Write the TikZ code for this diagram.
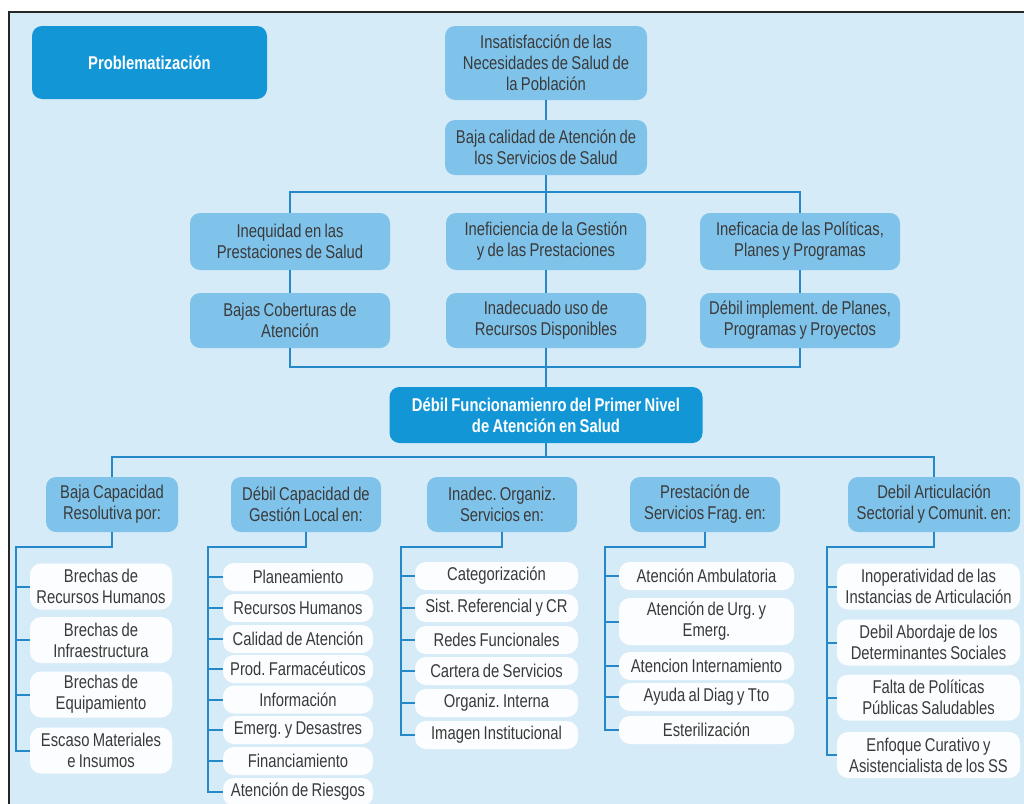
\documentclass[tikz,border=0pt]{standalone}
\usepackage{fontspec}
\setmainfont[FakeStretch=0.8,WordSpace=0.8]{Liberation Sans}
\definecolor{bgblue}{HTML}{D6EBF8}
\definecolor{bright}{HTML}{1296D6}
\definecolor{midblue}{HTML}{80C3EA}
\definecolor{itemfill}{HTML}{FBFDFF}
\definecolor{linecol}{HTML}{2589C9}
\definecolor{txt}{HTML}{3A3A3A}
\tikzset{
  base/.style={align=center, inner sep=0pt, font=\frenchspacing\fontsize{18.5}{21}\selectfont},
  bigbox/.style={base, fill=bright, text=white, rounded corners=10pt, font=\frenchspacing\fontsize{18.5}{21}\selectfont\bfseries},
  midbox/.style={base, fill=midblue, text=txt, rounded corners=10pt},
  itembox/.style={base, fill=itemfill, text=txt, rounded corners=11pt},
  conn/.style={draw=linecol, line width=2pt},
}
\begin{document}
\begin{tikzpicture}[x=1pt,y=-1pt]
\useasboundingbox (0,0) rectangle (1024,803);
\fill[white] (0,0) rectangle (1024,803);
\draw[fill=bgblue, draw=black!85, line width=2pt] (9,12) rectangle (1040,820);

% top part
\node[bigbox, minimum width=235pt, minimum height=73pt] (prob) at (149.5,62.5) {Problematización};
\node[midbox, minimum width=202pt, minimum height=74pt] (n1) at (546,63) {Insatisfacción de las\\Necesidades de Salud de\\la Población};
\node[midbox, minimum width=202pt, minimum height=55pt] (n2) at (546,147.5) {Baja calidad de Atención de\\los Servicios de Salud};

\node[midbox, minimum width=200pt, minimum height=57pt] (a1) at (290,241.5) {Inequidad en las\\Prestaciones de Salud};
\node[midbox, minimum width=200pt, minimum height=57pt] (a2) at (546,241.5) {Ineficiencia de la Gestión\\y de las Prestaciones};
\node[midbox, minimum width=200pt, minimum height=57pt] (a3) at (800,241.5) {Ineficacia de las Políticas,\\Planes y Programas};

\node[midbox, minimum width=200pt, minimum height=55pt] (b1) at (290,320.5) {Bajas Coberturas de\\Atención};
\node[midbox, minimum width=200pt, minimum height=55pt] (b2) at (546,320.5) {Inadecuado uso de\\Recursos Disponibles};
\node[midbox, minimum width=200pt, minimum height=55pt] (b3) at (800,320.5) {Débil implement. de Planes,\\Programas y Proyectos};

\node[bigbox, minimum width=313pt, minimum height=56pt] (d) at (546,415) {Débil Funcionamienro del Primer Nivel\\de Atención en Salud};

\draw[conn] (n1.south) -- (n2.north);
\draw[conn] (n2.south) -- (a2.north);
\draw[conn] (a1.north) -- ++(0,-21) -| (a3.north);
\draw[conn] (a1.south) -- (b1.north);
\draw[conn] (a2.south) -- (b2.north);
\draw[conn] (a3.south) -- (b3.north);
\draw[conn] (b1.south) -- ++(0,19) -| (b3.south);
\draw[conn] (b2.south) -- (d.north);

% headers
\node[midbox, minimum width=132pt, minimum height=55pt] (h1) at (112,504.5) {Baja Capacidad\\Resolutiva por:};
\node[midbox, minimum width=150pt, minimum height=55pt] (h2) at (306,504.5) {Débil Capacidad de\\Gestión Local en:};
\node[midbox, minimum width=150pt, minimum height=55pt] (h3) at (502,504.5) {Inadec. Organiz.\\Servicios en:};
\node[midbox, minimum width=150pt, minimum height=55pt] (h4) at (705,504.5) {Prestación de\\Servicios Frag. en:};
\node[midbox, minimum width=172pt, minimum height=55pt] (h5) at (934,504.5) {Debil Articulación\\Sectorial y Comunit. en:};

\draw[conn] (d.south) -- ++(0,14);
\draw[conn] (h1.north) -- ++(0,-20) -| (h5.north);

% column 1
\node[itembox, minimum width=142pt, minimum height=46pt] (c11) at (101,586.5) {Brechas de\\Recursos Humanos};
\node[itembox, minimum width=142pt, minimum height=46pt] (c12) at (101,640) {Brechas de\\Infraestructura};
\node[itembox, minimum width=142pt, minimum height=46pt] (c13) at (101,694.5) {Brechas de\\Equipamiento};
\node[itembox, minimum width=142pt, minimum height=46pt] (c14) at (101,750.5) {Escaso Materiales\\e Insumos};
\coordinate (s1) at (16,547);
\draw[conn] (h1.south) |- (s1) -- (s1 |- c14.west) -- (c14.west);
\foreach \i in {c11,c12,c13} \draw[conn] (s1 |- \i.west) -- (\i.west);

% column 2
\node[itembox, minimum width=150pt, minimum height=28pt] (c21) at (298,577) {Planeamiento};
\node[itembox, minimum width=150pt, minimum height=28pt] (c22) at (298,608) {Recursos Humanos};
\node[itembox, minimum width=150pt, minimum height=28pt] (c23) at (298,639) {Calidad de Atención};
\node[itembox, minimum width=150pt, minimum height=28pt] (c24) at (298,669) {Prod. Farmacéuticos};
\node[itembox, minimum width=150pt, minimum height=28pt] (c25) at (298,699.5) {Información};
\node[itembox, minimum width=150pt, minimum height=28pt] (c26) at (298,730) {Emerg. y Desastres};
\node[itembox, minimum width=150pt, minimum height=28pt] (c27) at (298,761) {Financiamiento};
\node[itembox, minimum width=150pt, minimum height=28pt] (c28) at (298,792) {Atención de Riesgos};
\coordinate (s2) at (208,547);
\draw[conn] (h2.south) |- (s2) -- (s2 |- c28.west) -- (c28.west);
\foreach \i in {c21,c22,c23,c24,c25,c26,c27} \draw[conn] (s2 |- \i.west) -- (\i.west);

% column 3
\node[itembox, minimum width=163pt, minimum height=28pt] (c31) at (496.5,576) {Categorización};
\node[itembox, minimum width=163pt, minimum height=28pt] (c32) at (496.5,608) {Sist. Referencial y CR};
\node[itembox, minimum width=163pt, minimum height=28pt] (c33) at (496.5,640) {Redes Funcionales};
\node[itembox, minimum width=163pt, minimum height=28pt] (c34) at (496.5,671) {Cartera de Servicios};
\node[itembox, minimum width=163pt, minimum height=28pt] (c35) at (496.5,703) {Organiz. Interna};
\node[itembox, minimum width=163pt, minimum height=28pt] (c36) at (496.5,735) {Imagen Institucional};
\coordinate (s3) at (401,547);
\draw[conn] (h3.south) |- (s3) -- (s3 |- c36.west) -- (c36.west);
\foreach \i in {c31,c32,c33,c34,c35} \draw[conn] (s3 |- \i.west) -- (\i.west);

% column 4
\node[itembox, minimum width=175pt, minimum height=28pt] (c41) at (706.5,576) {Atención Ambulatoria};
\node[itembox, minimum width=175pt, minimum height=47pt] (c42) at (706.5,621.5) {Atención de Urg. y\\Emerg.};
\node[itembox, minimum width=175pt, minimum height=28pt] (c43) at (706.5,666) {Atencion Internamiento};
\node[itembox, minimum width=175pt, minimum height=28pt] (c44) at (706.5,697) {Ayuda al Diag y Tto};
\node[itembox, minimum width=175pt, minimum height=28pt] (c45) at (706.5,730) {Esterilización};
\coordinate (s4) at (605,547);
\draw[conn] (h4.south) |- (s4) -- (s4 |- c45.west) -- (c45.west);
\foreach \i in {c41,c42,c43,c44} \draw[conn] (s4 |- \i.west) -- (\i.west);

% column 5
\node[itembox, minimum width=183pt, minimum height=46pt] (c51) at (928.5,586.5) {Inoperatividad de las\\Instancias de Articulación};
\node[itembox, minimum width=183pt, minimum height=46pt] (c52) at (928.5,642.5) {Debil Abordaje de los\\Determinantes Sociales};
\node[itembox, minimum width=183pt, minimum height=46pt] (c53) at (928.5,697.5) {Falta de Políticas\\Públicas Saludables};
\node[itembox, minimum width=183pt, minimum height=46pt] (c54) at (928.5,755) {Enfoque Curativo y\\Asistencialista de los SS};
\coordinate (s5) at (827,547);
\draw[conn] (h5.south) |- (s5) -- (s5 |- c54.west) -- (c54.west);
\foreach \i in {c51,c52,c53} \draw[conn] (s5 |- \i.west) -- (\i.west);
\end{tikzpicture}
\end{document}
